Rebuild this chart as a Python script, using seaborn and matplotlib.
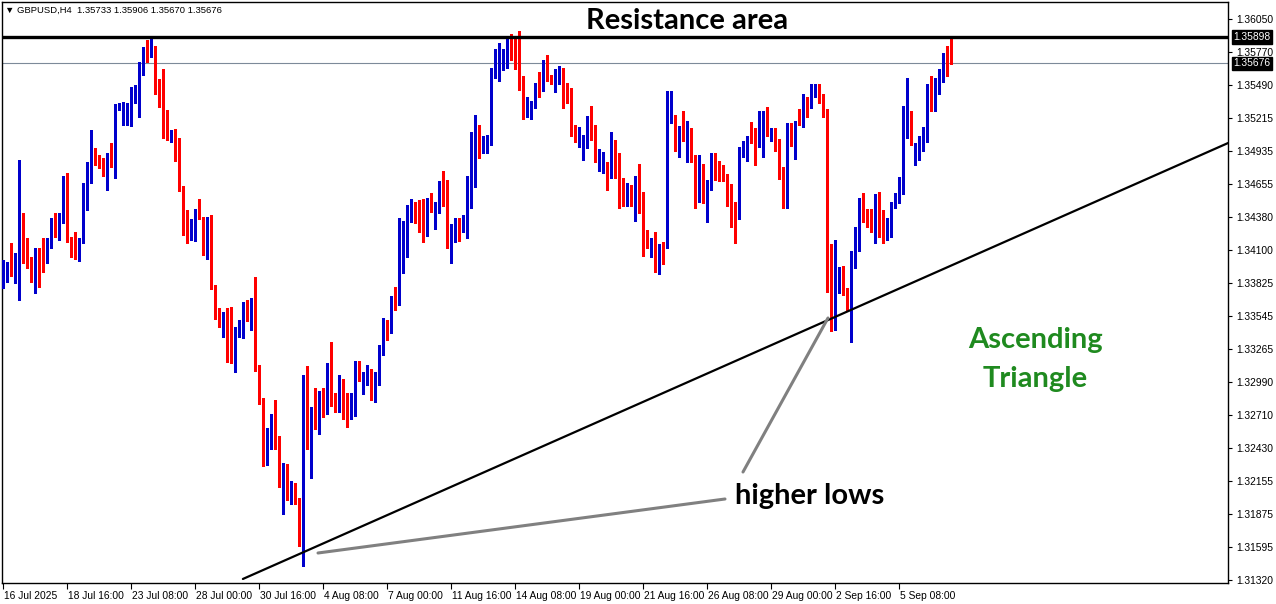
import matplotlib
matplotlib.use("Agg")
import matplotlib.pyplot as plt
from matplotlib.lines import Line2D
import matplotlib.transforms as mtransforms
import numpy as np
import pandas as pd
import seaborn as sns

# GBPUSD H4 candles (oldest first)
opens = [
    1.3379, 1.3393, 1.3397, 1.3391, 1.3392, 1.3422, 1.3417, 1.3400, 1.3395, 1.3411,
    1.3401, 1.3399, 1.3413, 1.3431, 1.3422, 1.3436, 1.3458, 1.3419, 1.3414, 1.3403,
    1.3418, 1.3452, 1.3480, 1.3494, 1.3488, 1.3484, 1.3476, 1.3489, 1.3480, 1.3530,
    1.3526, 1.3526, 1.3527, 1.3542, 1.3545, 1.3561, 1.3578, 1.3573, 1.3580, 1.3544,
    1.3536, 1.3511, 1.3505, 1.3507, 1.3491, 1.3462, 1.3434, 1.3420, 1.3419, 1.3443,
    1.3436, 1.3420, 1.3438, 1.3379, 1.3350, 1.3345, 1.3350, 1.3342, 1.3315, 1.3339,
    1.3336, 1.3367, 1.3353, 1.3368, 1.3310, 1.3283, 1.3230, 1.3253, 1.3271, 1.3252,
    1.3218, 1.3225, 1.3209, 1.3212, 1.3201, 1.3163, 1.3296, 1.3247, 1.3284, 1.3263,
    1.3280, 1.3280, 1.3300, 1.3288, 1.3283, 1.3301, 1.3287, 1.3280, 1.3283, 1.3311,
    1.3299, 1.3302, 1.3307, 1.3296, 1.3301, 1.3326, 1.3347, 1.3343, 1.3369, 1.3368,
    1.3421, 1.3430, 1.3442, 1.3448, 1.3436, 1.3435, 1.3422, 1.3447, 1.3440, 1.3441,
    1.3467, 1.3464, 1.3422, 1.3425, 1.3431, 1.3429, 1.3437, 1.3468, 1.3484, 1.3516,
    1.3493, 1.3503, 1.3505, 1.3557, 1.3560, 1.3573, 1.3564, 1.3586, 1.3575, 1.3572,
    1.3553, 1.3522, 1.3529, 1.3534, 1.3548, 1.3545, 1.3562, 1.3558, 1.3544, 1.3552,
    1.3563, 1.3546, 1.3544, 1.3509, 1.3500, 1.3502, 1.3505, 1.3521, 1.3510, 1.3489,
    1.3479, 1.3481, 1.3474, 1.3500, 1.3489, 1.3461, 1.3447, 1.3457, 1.3452, 1.3466,
    1.3447, 1.3419, 1.3404, 1.3420, 1.3393, 1.3414, 1.3413, 1.3526, 1.3510, 1.3497,
    1.3511, 1.3502, 1.3505, 1.3489, 1.3452, 1.3481, 1.3457, 1.3462, 1.3479, 1.3478,
    1.3480, 1.3472, 1.3449, 1.3446, 1.3441, 1.3495, 1.3485, 1.3505, 1.3505, 1.3498,
    1.3503, 1.3522, 1.3507, 1.3509, 1.3503, 1.3478, 1.3459, 1.3508, 1.3487, 1.3518,
    1.3517, 1.3535, 1.3532, 1.3542, 1.3539, 1.3538, 1.3527, 1.3414, 1.3353, 1.3392,
    1.3383, 1.3376, 1.3369, 1.3408, 1.3425, 1.3450, 1.3444, 1.3442, 1.3426, 1.3454,
    1.3441, 1.3420, 1.3421, 1.3449, 1.3450, 1.3470, 1.3522, 1.3526, 1.3495, 1.3496,
    1.3495, 1.3511, 1.3543, 1.3538, 1.3543, 1.3558, 1.3574, 1.35733,
]
highs = [
    1.3402, 1.3400, 1.3416, 1.3408, 1.3486, 1.3441, 1.3420, 1.3404, 1.3412, 1.3412,
    1.3420, 1.3420, 1.3437, 1.3441, 1.3441, 1.3473, 1.3475, 1.3421, 1.3425, 1.3420,
    1.3467, 1.3484, 1.3511, 1.3496, 1.3490, 1.3488, 1.3492, 1.3500, 1.3533, 1.3534,
    1.3535, 1.3534, 1.3548, 1.3549, 1.3569, 1.3581, 1.3587, 1.3589, 1.3582, 1.3554,
    1.3563, 1.3528, 1.3511, 1.3512, 1.3505, 1.3464, 1.3444, 1.3436, 1.3445, 1.3453,
    1.3438, 1.3438, 1.3440, 1.3381, 1.3361, 1.3358, 1.3361, 1.3362, 1.3345, 1.3351,
    1.3366, 1.3368, 1.3370, 1.3387, 1.3313, 1.3285, 1.3260, 1.3272, 1.3284, 1.3253,
    1.3231, 1.3230, 1.3215, 1.3214, 1.3201, 1.3305, 1.3312, 1.3278, 1.3294, 1.3291,
    1.3294, 1.3315, 1.3333, 1.3290, 1.3305, 1.3301, 1.3290, 1.3290, 1.3317, 1.3317,
    1.3307, 1.3313, 1.3310, 1.3307, 1.3330, 1.3353, 1.3351, 1.3371, 1.3379, 1.3437,
    1.3435, 1.3448, 1.3453, 1.3451, 1.3452, 1.3453, 1.3454, 1.3458, 1.3451, 1.3468,
    1.3477, 1.3469, 1.3432, 1.3437, 1.3437, 1.3440, 1.3473, 1.3510, 1.3524, 1.3516,
    1.3506, 1.3507, 1.3564, 1.3580, 1.3585, 1.3580, 1.3588, 1.3592, 1.3591, 1.3595,
    1.3557, 1.3539, 1.3536, 1.3551, 1.3560, 1.3570, 1.3575, 1.3558, 1.3563, 1.3565,
    1.3564, 1.3551, 1.3547, 1.3516, 1.3514, 1.3507, 1.3523, 1.3532, 1.3516, 1.3495,
    1.3493, 1.3484, 1.3510, 1.3503, 1.3492, 1.3471, 1.3467, 1.3465, 1.3473, 1.3483,
    1.3459, 1.3427, 1.3420, 1.3425, 1.3415, 1.3417, 1.3544, 1.3544, 1.3524, 1.3515,
    1.3527, 1.3519, 1.3513, 1.3490, 1.3490, 1.3483, 1.3469, 1.3492, 1.3492, 1.3485,
    1.3482, 1.3474, 1.3466, 1.3451, 1.3497, 1.3502, 1.3506, 1.3518, 1.3513, 1.3527,
    1.3527, 1.3531, 1.3513, 1.3513, 1.3504, 1.3480, 1.3517, 1.3517, 1.3519, 1.3529,
    1.3542, 1.3539, 1.3550, 1.3550, 1.3550, 1.3542, 1.3529, 1.3415, 1.3419, 1.3396,
    1.3397, 1.3378, 1.3409, 1.3430, 1.3454, 1.3458, 1.3445, 1.3445, 1.3457, 1.3459,
    1.3444, 1.3437, 1.3451, 1.3458, 1.3472, 1.3532, 1.3555, 1.3527, 1.3500, 1.3506,
    1.3514, 1.3550, 1.3557, 1.3555, 1.3563, 1.3576, 1.3582, 1.35906,
]
lows = [
    1.3378, 1.3383, 1.3388, 1.3382, 1.3368, 1.3399, 1.3395, 1.3383, 1.3374, 1.3379,
    1.3392, 1.3399, 1.3412, 1.3421, 1.3419, 1.3433, 1.3417, 1.3404, 1.3403, 1.3401,
    1.3416, 1.3444, 1.3467, 1.3482, 1.3479, 1.3473, 1.3461, 1.3480, 1.3471, 1.3528,
    1.3516, 1.3516, 1.3515, 1.3534, 1.3522, 1.3558, 1.3569, 1.3573, 1.3542, 1.3531,
    1.3505, 1.3503, 1.3501, 1.3485, 1.3460, 1.3423, 1.3416, 1.3419, 1.3418, 1.3436,
    1.3406, 1.3403, 1.3377, 1.3352, 1.3345, 1.3337, 1.3316, 1.3315, 1.3307, 1.3337,
    1.3336, 1.3350, 1.3343, 1.3308, 1.3280, 1.3228, 1.3229, 1.3242, 1.3242, 1.3210,
    1.3188, 1.3199, 1.3196, 1.3196, 1.3161, 1.3144, 1.3242, 1.3218, 1.3259, 1.3255,
    1.3269, 1.3272, 1.3279, 1.3274, 1.3274, 1.3268, 1.3261, 1.3268, 1.3270, 1.3300,
    1.3289, 1.3296, 1.3284, 1.3282, 1.3296, 1.3322, 1.3334, 1.3340, 1.3360, 1.3364,
    1.3391, 1.3404, 1.3434, 1.3433, 1.3425, 1.3417, 1.3422, 1.3442, 1.3428, 1.3441,
    1.3447, 1.3412, 1.3399, 1.3417, 1.3418, 1.3425, 1.3420, 1.3446, 1.3463, 1.3488,
    1.3492, 1.3492, 1.3499, 1.3555, 1.3553, 1.3562, 1.3564, 1.3570, 1.3563, 1.3545,
    1.3521, 1.3522, 1.3521, 1.3530, 1.3539, 1.3544, 1.3553, 1.3550, 1.3543, 1.3550,
    1.3530, 1.3534, 1.3506, 1.3501, 1.3497, 1.3486, 1.3496, 1.3503, 1.3484, 1.3477,
    1.3475, 1.3461, 1.3471, 1.3471, 1.3446, 1.3447, 1.3447, 1.3447, 1.3435, 1.3441,
    1.3405, 1.3412, 1.3404, 1.3392, 1.3390, 1.3398, 1.3412, 1.3517, 1.3494, 1.3489,
    1.3502, 1.3484, 1.3484, 1.3446, 1.3451, 1.3450, 1.3434, 1.3461, 1.3469, 1.3468,
    1.3468, 1.3447, 1.3430, 1.3416, 1.3436, 1.3489, 1.3485, 1.3500, 1.3482, 1.3497,
    1.3489, 1.3506, 1.3502, 1.3494, 1.3470, 1.3446, 1.3446, 1.3498, 1.3487, 1.3516,
    1.3514, 1.3522, 1.3530, 1.3539, 1.3534, 1.3522, 1.3375, 1.3342, 1.3343, 1.3374,
    1.3372, 1.3360, 1.3333, 1.3395, 1.3409, 1.3434, 1.3430, 1.3425, 1.3416, 1.3421,
    1.3416, 1.3419, 1.3421, 1.3446, 1.3450, 1.3457, 1.3505, 1.3499, 1.3482, 1.3486,
    1.3494, 1.3501, 1.3527, 1.3527, 1.3542, 1.3552, 1.3557, 1.35670,
]
closes = [
    1.3399, 1.3397, 1.3391, 1.3393, 1.3422, 1.3419, 1.3399, 1.3395, 1.3410, 1.3400,
    1.3400, 1.3418, 1.3432, 1.3423, 1.3437, 1.3458, 1.3418, 1.3405, 1.3403, 1.3419,
    1.3452, 1.3480, 1.3494, 1.3491, 1.3484, 1.3476, 1.3490, 1.3480, 1.3530, 1.3533,
    1.3527, 1.3527, 1.3542, 1.3545, 1.3562, 1.3580, 1.3573, 1.3580, 1.3543, 1.3534,
    1.3511, 1.3506, 1.3507, 1.3491, 1.3462, 1.3433, 1.3420, 1.3431, 1.3443, 1.3436,
    1.3420, 1.3438, 1.3379, 1.3354, 1.3345, 1.3350, 1.3341, 1.3315, 1.3339, 1.3343,
    1.3366, 1.3351, 1.3368, 1.3310, 1.3283, 1.3237, 1.3253, 1.3271, 1.3252, 1.3218,
    1.3225, 1.3204, 1.3212, 1.3201, 1.3163, 1.3296, 1.3245, 1.3278, 1.3263, 1.3280,
    1.3279, 1.3299, 1.3287, 1.3285, 1.3301, 1.3287, 1.3280, 1.3284, 1.3311, 1.3301,
    1.3302, 1.3307, 1.3296, 1.3301, 1.3326, 1.3347, 1.3343, 1.3369, 1.3368, 1.3421,
    1.3430, 1.3442, 1.3448, 1.3435, 1.3434, 1.3422, 1.3447, 1.3446, 1.3442, 1.3467,
    1.3466, 1.3422, 1.3425, 1.3431, 1.3430, 1.3439, 1.3468, 1.3485, 1.3516, 1.3500,
    1.3503, 1.3505, 1.3557, 1.3560, 1.3573, 1.3577, 1.3586, 1.3575, 1.3571, 1.3552,
    1.3522, 1.3529, 1.3535, 1.3548, 1.3546, 1.3561, 1.3557, 1.3554, 1.3554, 1.3563,
    1.3546, 1.3543, 1.3508, 1.3502, 1.3502, 1.3505, 1.3520, 1.3509, 1.3489, 1.3492,
    1.3480, 1.3474, 1.3501, 1.3489, 1.3460, 1.3454, 1.3457, 1.3452, 1.3466, 1.3446,
    1.3419, 1.3412, 1.3420, 1.3393, 1.3414, 1.3413, 1.3526, 1.3528, 1.3496, 1.3511,
    1.3503, 1.3505, 1.3489, 1.3451, 1.3481, 1.3457, 1.3463, 1.3478, 1.3477, 1.3476,
    1.3472, 1.3448, 1.3444, 1.3441, 1.3496, 1.3498, 1.3505, 1.3504, 1.3498, 1.3504,
    1.3522, 1.3511, 1.3509, 1.3502, 1.3476, 1.3459, 1.3508, 1.3499, 1.3518, 1.3517,
    1.3535, 1.3532, 1.3543, 1.3544, 1.3537, 1.3527, 1.3413, 1.3353, 1.3393, 1.3394,
    1.3375, 1.3368, 1.3408, 1.3425, 1.3450, 1.3445, 1.3441, 1.3426, 1.3454, 1.3440,
    1.3420, 1.3436, 1.3449, 1.3450, 1.3470, 1.3522, 1.3526, 1.3500, 1.3496, 1.3496,
    1.3512, 1.3543, 1.3538, 1.3544, 1.3559, 1.3574, 1.3572, 1.35676,
]

date_labels = ["16 Jul 2025", "18 Jul 16:00", "23 Jul 08:00", "28 Jul 00:00",
               "30 Jul 16:00", "4 Aug 08:00", "7 Aug 00:00", "11 Aug 16:00",
               "14 Aug 08:00", "19 Aug 00:00", "21 Aug 16:00", "26 Aug 08:00",
               "29 Aug 00:00", "2 Sep 16:00", "5 Sep 08:00"]
bars_per_label = 16

price_ticks = [1.36050, 1.35770, 1.35490, 1.35215, 1.34935, 1.34655, 1.34380,
               1.34100, 1.33825, 1.33545, 1.33265, 1.32990, 1.32710, 1.32430,
               1.32155, 1.31875, 1.31595, 1.31320]

resistance = 1.35898
last_price = 1.35676
# ascending support line (bar index, price)
trend_x = [59.9, 306.2]
trend_y = [1.31328, 1.35004]

header = "\u25BC GBPUSD,H4  1.35733 1.35906 1.35670 1.35676"

sns.set_style("white")
plt.rcParams['font.family'] = ['Liberation Sans', 'DejaVu Sans']
plt.rcParams['text.color'] = 'black'

df = pd.DataFrame({'open': opens, 'high': highs, 'low': lows, 'close': closes})
df['bar'] = np.arange(len(df))
df['up'] = df['close'] >= df['open']
df['color'] = np.where(df['up'], '#0000cc', '#ff0000')
df['bottom'] = df[['open', 'close']].min(axis=1)
df['body'] = (df['close'] - df['open']).abs().clip(lower=0.00009)

fig = plt.figure(figsize=(12.76, 6.04), dpi=100)
ax = fig.add_axes([2 / 1276, 21 / 604, 1226 / 1276, 581 / 604])

ax.vlines(df['bar'], df['low'], df['high'], colors=df['color'], lw=1.0,
          antialiased=False, zorder=3)
ax.bar(df['bar'], df['body'], bottom=df['bottom'], width=0.85,
       color=df['color'], linewidth=0, antialiased=False, zorder=4)

ax.axhline(resistance, color='black', lw=2.4, zorder=5)
ax.axhline(last_price, color='#7d8a99', lw=0.8, zorder=2)
sns.lineplot(x=trend_x, y=trend_y, color='black', lw=1.6, ax=ax, zorder=5)

ax.set_xlim(-0.325, 306.175)
ax.set_ylim(1.31294, 1.36193)

ax.yaxis.tick_right()
ax.set_yticks(price_ticks)
ax.set_yticklabels([f"{p:.5f}" for p in price_ticks])
ax.set_xticks([i * bars_per_label for i in range(len(date_labels))])
ax.set_xticklabels(date_labels, ha='left')
ax.tick_params(axis='y', length=3, width=0.8, pad=3, labelsize=7.4,
               direction='out', right=True, left=False, colors='black')
ax.tick_params(axis='x', length=4, width=0.8, pad=2, labelsize=7.4,
               direction='out', bottom=True, colors='black')
for lab in ax.get_xticklabels():
    lab.set_transform(lab.get_transform() + mtransforms.ScaledTranslation(1 / 100, 0, fig.dpi_scale_trans))
for sp in ax.spines.values():
    sp.set_color('black')
    sp.set_linewidth(1.0)
ax.set_xlabel('')
ax.set_ylabel('')

for p in (resistance, last_price):
    ax.annotate(f"{p:.5f}", xy=(1, p), xycoords=('axes fraction', 'data'),
                xytext=(4, 0), textcoords='offset points', va='center',
                ha='left', fontsize=7.4, color='white',
                bbox=dict(boxstyle='square,pad=0.15', fc='black', ec='black'),
                annotation_clip=False, zorder=10)

fig.text(5 / 1276, 1 - 10 / 604, header, fontsize=6.8, va='center', ha='left',
         color='black', family=['Liberation Sans', 'DejaVu Sans'])
fig.text(687 / 1276, 1 - 21 / 604, "Resistance area", fontsize=21,
         fontweight='bold', family='Lato', ha='center', va='center', color='black')
fig.text(1035 / 1276, 1 - 340 / 604, "Ascending", fontsize=21,
         fontweight='bold', family='Lato', color='#1f8a1f', ha='center', va='center')
fig.text(1035 / 1276, 1 - 379 / 604, "Triangle", fontsize=21,
         fontweight='bold', family='Lato', color='#1f8a1f', ha='center', va='center')
fig.text(810 / 1276, 1 - 496 / 604, "higher lows", fontsize=21,
         fontweight='bold', family='Lato', ha='center', va='center', color='black')

for (x0, y0), (x1, y1) in [((318, 553), (725, 499)), ((743, 472), (828, 318))]:
    fig.add_artist(Line2D([x0 / 1276, x1 / 1276], [1 - y0 / 604, 1 - y1 / 604],
                          transform=fig.transFigure, color='#808080', lw=2.2))

fig.savefig('out.png', dpi=100)
